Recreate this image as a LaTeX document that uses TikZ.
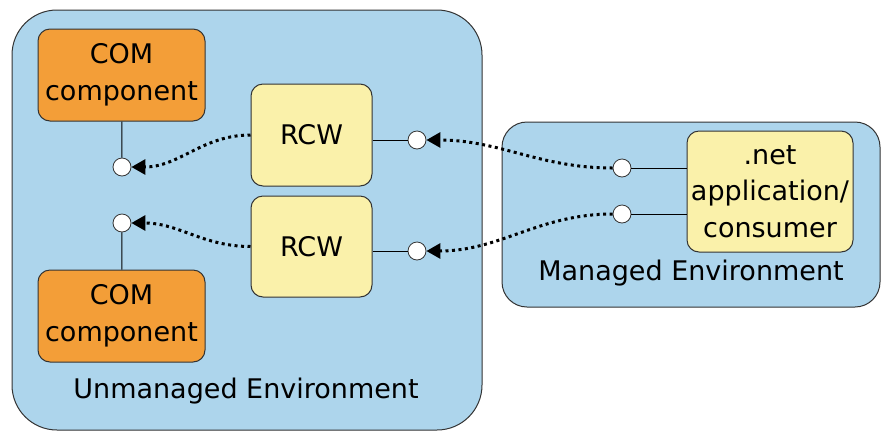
\documentclass[tikz,border=0pt]{standalone}
\usepackage{fontspec}
\setmainfont{DejaVu Sans}
\usetikzlibrary{arrows.meta}
\definecolor{envblue}{RGB}{173,213,236}
\definecolor{comorange}{RGB}{243,158,56}
\definecolor{rcwyellow}{RGB}{250,241,170}
\begin{document}
\begin{tikzpicture}[x=1pt,y=-1pt,
	every node/.style={font=\fontsize{27}{36.5}\selectfont},
	env/.style={draw=black!80, fill=envblue, line width=1pt, rounded corners=#1},
	box/.style={draw=black!80, line width=1pt, rounded corners=12pt, align=center, inner sep=0pt},
	port/.style={circle, draw=black!80, fill=white, line width=0.8pt, minimum size=18pt, inner sep=0pt},
	call/.style={line width=3pt, dash pattern=on 3pt off 3.5pt, -{Triangle[length=14pt,width=15pt]}}]
\useasboundingbox (0,0) rectangle (883,432);
% environments
\draw[env=45pt] (12,10) rectangle (482,430);
\draw[env=25pt] (502,122) rectangle (880,307);
\node(UE) at (246,391) {Unmanaged Environment};
\node(ME) at (691,273) {Managed Environment};
% boxes
\node[box, fill=comorange, minimum width=167pt, minimum height=92pt](COM1) at (121.5,75) {COM\\component};
\node[box, fill=comorange, minimum width=167pt, minimum height=92pt](COM2) at (121.5,316) {COM\\component};
\node[box, fill=rcwyellow, minimum width=121pt, minimum height=102pt](RCW1) at (311.5,135) {RCW};
\node[box, fill=rcwyellow, minimum width=121pt, minimum height=101pt](RCW2) at (311.5,246.5) {RCW};
\node[box, fill=rcwyellow, minimum width=166pt, minimum height=121pt](NET) at (770,191.5) {.net\\application/\\consumer};
% ports
\node[port](C1) at (122,167) {};
\node[port](C2) at (122,223) {};
\node[port](R1) at (417,140) {};
\node[port](R2) at (417,251) {};
\node[port](M1) at (622,168) {};
\node[port](M2) at (622,214) {};
\draw[line width=1pt] (COM1) -- (C1);
\draw[line width=1pt] (COM2) -- (C2);
\draw[line width=1pt] (RCW1.east |- R1) -- (R1);
\draw[line width=1pt] (RCW2.east |- R2) -- (R2);
\draw[line width=1pt] (NET.west |- M1) -- (M1);
\draw[line width=1pt] (NET.west |- M2) -- (M2);
% calls
\draw[call] (RCW1.west) to[out=180,in=0] (C1);
\draw[call] (RCW2.west) to[out=180,in=0] (C2);
\draw[call] (M1) to[out=180,in=0] (R1);
\draw[call] (M2) to[out=180,in=0] (R2);
\end{tikzpicture}
\end{document}
